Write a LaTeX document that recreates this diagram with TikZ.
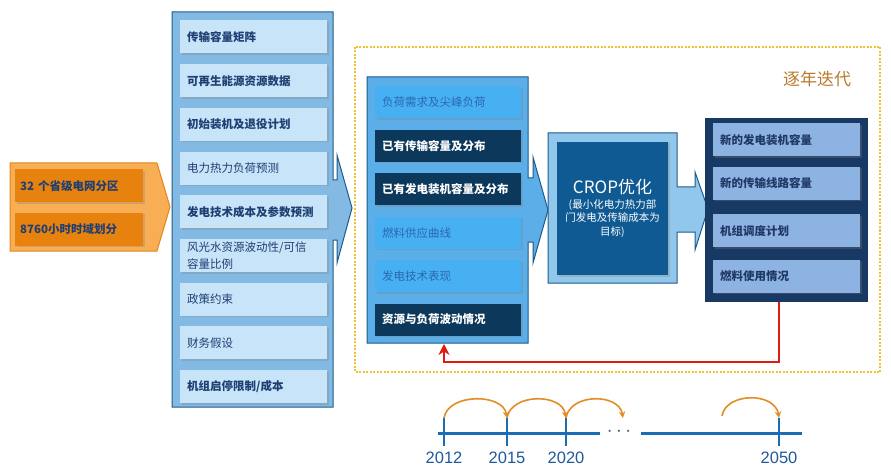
\documentclass[tikz,border=0pt]{standalone}
\usepackage{fontspec}
\setmainfont{Noto Sans CJK SC}
\newfontfamily\yearfont{Liberation Sans}
\usepackage{tikz}
\usetikzlibrary{arrows.meta,positioning,shadows}

\definecolor{ink}{HTML}{1F3F73}
\definecolor{orgfill}{HTML}{F7AE55}
\definecolor{orgline}{HTML}{E5861C}
\definecolor{orgbox}{HTML}{E8820E}
\definecolor{inframe}{HTML}{82BAE4}
\definecolor{frameline}{HTML}{1F5A8A}
\definecolor{inbox}{HTML}{C7E4F8}
\definecolor{midframe}{HTML}{5BAEE8}
\definecolor{midpale}{HTML}{47B0F3}
\definecolor{midpaletxt}{HTML}{2B68B0}
\definecolor{middeep}{HTML}{0C385C}
\definecolor{cropframe}{HTML}{92C7EC}
\definecolor{cropcore}{HTML}{0F5A92}
\definecolor{outframe}{HTML}{183963}
\definecolor{outbox}{HTML}{8DB3E3}
\definecolor{outtxt}{HTML}{1F3864}
\definecolor{iterline}{HTML}{F0C131}
\definecolor{itertxt}{HTML}{B97A2C}
\definecolor{axisblue}{HTML}{1A6DB4}
\definecolor{yeartxt}{HTML}{21599C}
\definecolor{hoporange}{HTML}{E38D27}
\definecolor{fbred}{HTML}{E31A12}

\begin{document}
\begin{tikzpicture}[x=1pt,y=-1pt,>=Stealth,node distance=10.3pt,
  lift/.style={drop shadow={opacity=.3,shadow xshift=1.5pt,shadow yshift=-1.5pt}},
  frame/.style={draw=frameline,line width=1pt,line join=miter},
  orgitem/.style={lift,fill=orgbox,text=ink,font=\bfseries\fontsize{11.5}{14}\selectfont,
    text width=118pt,inner xsep=5pt,minimum height=33pt,anchor=west,align=left},
  initem/.style={lift,fill=inbox,text=ink,font=\fontsize{11.5}{17}\selectfont,
    text width=133pt,inner xsep=7pt,inner ysep=0pt,minimum height=33pt,anchor=west,align=left},
  initemb/.style={initem,font=\bfseries\fontsize{11.5}{17}\selectfont},
  midpaleitem/.style={lift,fill=midpale,text=midpaletxt,font=\fontsize{11.5}{14}\selectfont,
    text width=132pt,inner xsep=7pt,minimum height=32pt,anchor=west,align=left},
  middeepitem/.style={midpaleitem,fill=middeep,text=white,font=\bfseries\fontsize{11.5}{14}\selectfont},
  outitem/.style={lift,fill=outbox,text=outtxt,font=\bfseries\fontsize{11.5}{14}\selectfont,
    text width=133pt,inner xsep=7pt,minimum height=33pt,anchor=west,align=left},
  axis/.style={draw=axisblue,line width=3pt},
  tickmark/.style={draw=axisblue,line width=2.5pt},
  year/.style={text=yeartxt,font=\yearfont\fontsize{16.5}{18}\selectfont},
  hop/.style={draw=hoporange,line width=1.6pt,->,>={Stealth[length=6.5pt,width=6.5pt]}},
  feedback/.style={draw=fbred,line width=2.5pt,->,>={Stealth[length=11pt,width=11pt]}}]

  \useasboundingbox[fill=white] (0,0) rectangle (891,473);

  % iteration frame
  \draw[iterline,line width=1.2pt,dash pattern=on 2pt off 1.5pt] (355,47) rectangle (880,372);
  \node[text=itertxt,font=\fontsize{17}{20}\selectfont] (itertag) at (817,79) {逐年迭代};

  % region / time split
  \draw[fill=orgfill,draw=orgline,line width=1pt] (10,163) -- (157,163) -- (170,207) -- (157,251) -- (10,251) -- cycle;
  \node[orgitem] (org1) at (15,186) {32 个省级电网分区};
  \node[orgitem,below=10pt of org1] (org2) {8760小时时域划分};

  % input data
  \draw[frame,fill=inframe] (172,12) -- (333,12) -- (333,180) -- (337,180) -- (337,155) -- (352,208)
    -- (337,263) -- (337,240) -- (333,240) -- (333,407) -- (172,407) -- cycle;
  \node[initemb] (in1) at (180,37) {传输容量矩阵};
  \node[initemb,below=of in1] (in2) {可再生能源资源数据};
  \node[initemb,below=of in2] (in3) {初始装机及退役计划};
  \node[initem,below=of in3] (in4) {电力热力负荷预测};
  \node[initemb,below=of in4] (in5) {发电技术成本及参数预测};
  \node[initem,below=of in5] (in6) {风光水资源波动性/可信\\容量比例};
  \node[initem,below=of in6] (in7) {政策约束};
  \node[initem,below=of in7] (in8) {财务假设};
  \node[initemb,below=of in8] (in9) {机组启停限制/成本};

  % yearly state
  \draw[frame,fill=midframe] (367,77) -- (528,77) -- (528,178) -- (533,178) -- (533,157) -- (548,210)
    -- (533,263) -- (533,242) -- (528,242) -- (528,343) -- (367,343) -- cycle;
  \node[midpaleitem] (st1) at (375,102.5) {负荷需求及尖峰负荷};
  \node[middeepitem,below=11pt of st1] (st2) {已有传输容量及分布};
  \node[middeepitem,below=11pt of st2] (st3) {已有发电装机容量及分布};
  \node[midpaleitem,below=11pt of st3] (st4) {燃料供应曲线};
  \node[midpaleitem,below=11pt of st4] (st5) {发电技术表现};
  \node[middeepitem,below=11pt of st5] (st6) {资源与负荷波动情况};

  % optimisation
  \draw[frame,fill=cropframe] (548,133) -- (677,133) -- (677,187) -- (695,187) -- (695,172) -- (708,209)
    -- (695,250) -- (695,232) -- (677,232) -- (677,283) -- (548,283) -- cycle;
  \node[lift,fill=cropcore,text=white,minimum width=111pt,minimum height=133pt,align=center,
    font=\fontsize{10.5}{13.5}\selectfont] (crop) at (612.5,208.5)
    {{\fontsize{17}{20}\selectfont CROP优化}\\[1pt](最小化电力热力部\\门发电及传输成本为\\目标)};

  % results
  \node[fill=outframe,minimum width=163pt,minimum height=184pt] (outR) at (786.5,210) {};
  \node[outitem] (res1) at (713,140) {新的发电装机容量};
  \node[outitem,below=10pt of res1] (res2) {新的传输线路容量};
  \node[outitem,below=14pt of res2] (res3) {机组调度计划};
  \node[outitem,below=12pt of res3] (res4) {燃料使用情况};

  % feedback to next year
  \coordinate (fbturn) at (779,362);
  \coordinate (midbase) at (444,344);
  \draw[feedback] (outR.south -| fbturn) -- (fbturn) -| (midbase);

  % time line
  \draw[axis] (438,433) -- (600,433);
  \node[text=black!65,font=\fontsize{20}{20}\selectfont] (gap) at (619,432) {$\cdots$};
  \draw[axis] (641,433) -- (802,433);
  \foreach \yr/\x in {2012/444,2015/507,2020/566,2050/779} {
    \coordinate (t\yr) at (\x,418);
    \draw[tickmark] (t\yr) -- (\x,446);
    \node[year] (y\yr) at (\x,458) {\yr};
  }
  \coordinate (hopend) at (623,418);
  \coordinate (hopstart) at (722,416);
  \draw[hop] (t2012) .. controls (448,393) and (503,393) .. (t2015);
  \draw[hop] (t2015) .. controls (511,393) and (562,393) .. (t2020);
  \draw[hop] (t2020) .. controls (570,393) and (619,393) .. (hopend);
  \draw[hop] (hopstart) .. controls (726,392) and (775,392) .. (t2050);
\end{tikzpicture}
\end{document}
